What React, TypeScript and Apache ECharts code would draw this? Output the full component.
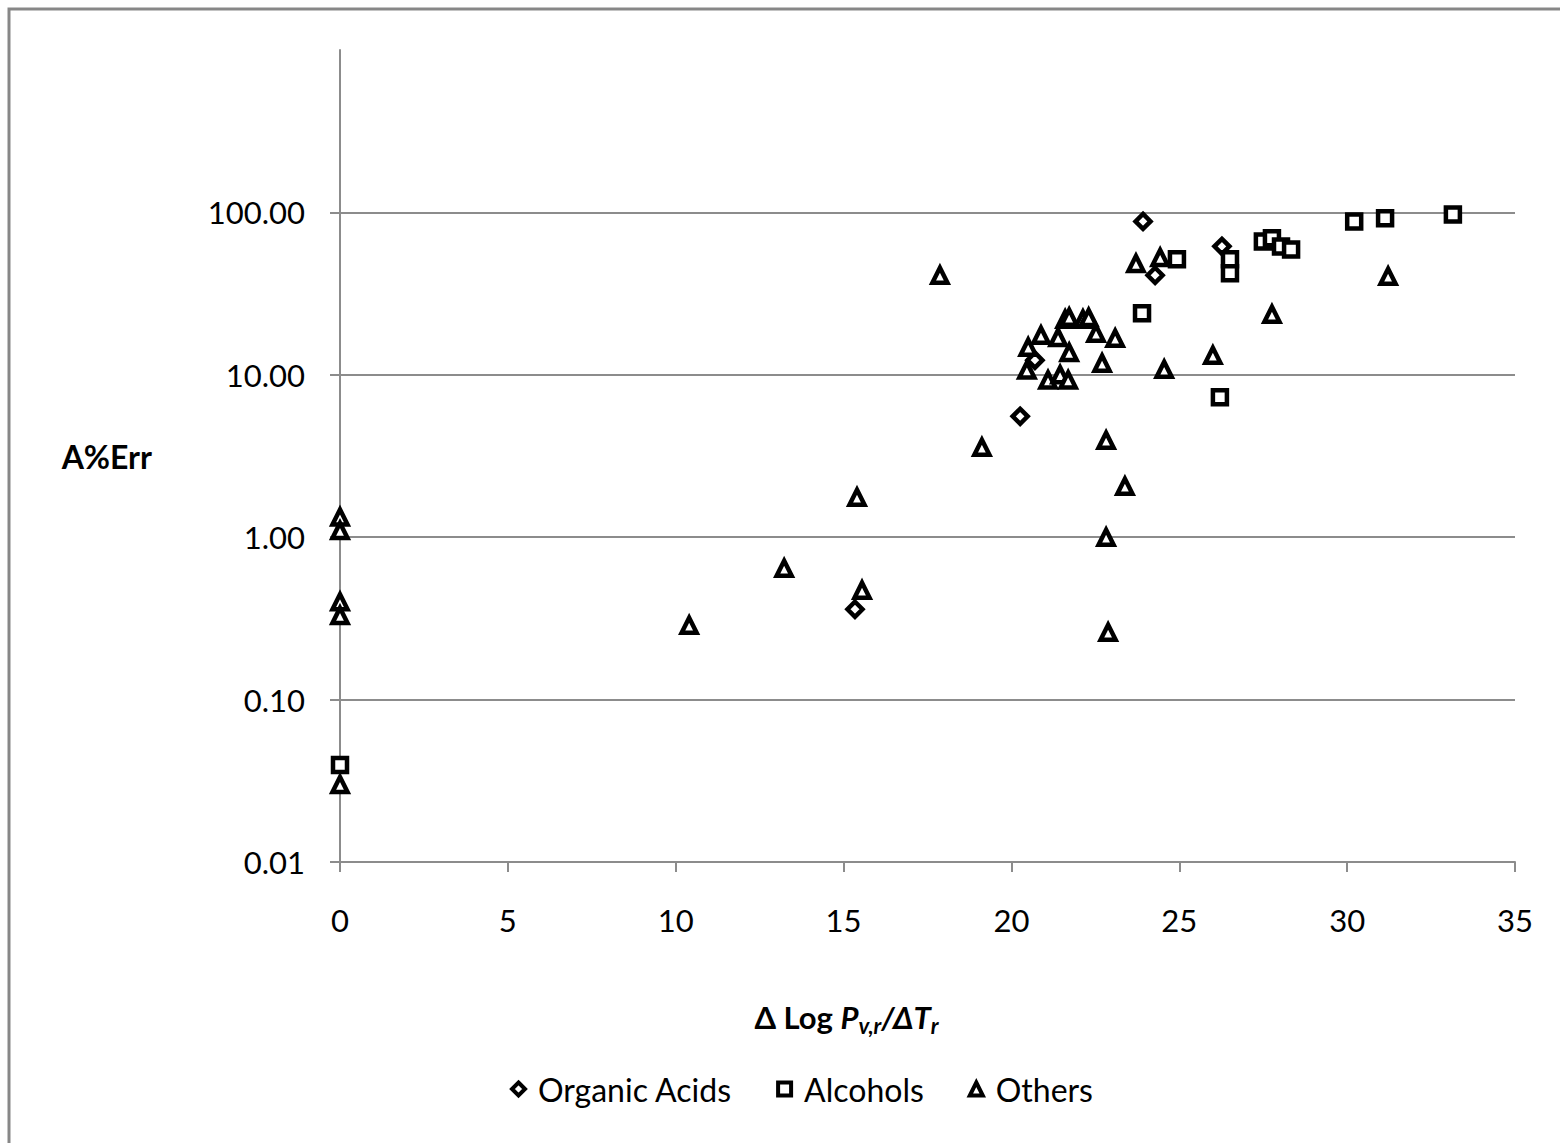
import React, { useEffect, useRef } from "react";
import * as echarts from "echarts";

// ---- data ----
const seriesNames = ["Organic Acids", "Alcohols", "Others"];

const acidsX = [23.92, 26.27, 24.28, 20.7, 20.26, 15.34];
const acidsY = [88, 61.8, 41, 12.3, 5.55, 0.36];

const alcoholsX = [0, 23.89, 24.93, 26.51, 26.51, 26.21, 27.49, 27.76, 28.03, 28.33, 30.21, 31.13, 33.15];
const alcoholsY = [0.0395, 23.9, 51.4, 51.4, 42.2, 7.27, 66.3, 69.2, 61.7, 59.2, 88, 91.9, 97.2];

const othersX = [
  0, 0, 0, 0, 0, 10.4, 13.23, 15.4, 15.55, 17.87, 19.12, 20.46, 20.5, 20.88, 21.09, 21.39, 21.45,
  21.6, 21.72, 21.72, 21.69, 22.13, 22.3, 22.52, 22.7, 22.82, 22.82, 22.88, 23.09, 23.38, 23.71,
  24.43, 24.55, 26.0, 27.76, 31.22,
];
const othersY = [
  1.33, 1.1, 0.4, 0.33, 0.03, 0.287, 0.644, 1.76, 0.472, 41, 3.58, 10.7, 14.8, 17.5, 9.3, 17.0, 10.0,
  22.0, 22.6, 13.7, 9.3, 22.0, 22.5, 18.0, 11.8, 3.95, 1.0, 0.26, 16.8, 2.06, 48.5, 52.8, 10.8,
  13.2, 23.6, 40.4,
];

const xTicks = { min: 0, max: 35, interval: 5 };
const yTicks = { min: 0.01, max: 1000 };
const yTickValues = [0.01, 0.1, 1, 10, 100];

const zip = (xs: number[], ys: number[]) => xs.map((x, i) => [x, ys[i]]);

const FONT = "Lato";

export default function App() {
  const ref = useRef<HTMLDivElement>(null);

  useEffect(() => {
    document.body.style.margin = "0";
    const chart = echarts.init(ref.current!, null, { renderer: "svg" });
    const markerStyle = { color: "#ffffff", borderColor: "#000000", borderWidth: 4.5, opacity: 1 };
    const option: any = {
      animation: false,
      backgroundColor: "#ffffff",
      textStyle: { fontFamily: FONT },
      graphic: [
        {
          type: "rect",
          shape: { x: 9, y: 9, width: 1700, height: 1300 },
          style: { fill: "none", stroke: "#878787", lineWidth: 3 },
          silent: true,
        },
      ],
      grid: { left: 340, right: 45, top: 50, bottom: 281, containLabel: false },
      xAxis: {
        type: "value",
        min: xTicks.min,
        max: xTicks.max,
        interval: xTicks.interval,
        name: "{b|Δ Log }{i|P}{s|v,r}{i|/ΔT}{s|r}",
        nameLocation: "middle",
        nameGap: 138,
        nameTextStyle: {
          padding: [0, 162, 0, 0],
          rich: {
            b: { fontFamily: FONT, fontSize: 31, fontWeight: "bold", color: "#000", lineHeight: 34 },
            i: { fontFamily: FONT, fontSize: 31, fontWeight: "bold", fontStyle: "italic", color: "#000", lineHeight: 34 },
            s: { fontFamily: FONT, fontSize: 22, fontWeight: "bold", fontStyle: "italic", color: "#000", lineHeight: 14, padding: [14, 0, 0, 0], verticalAlign: "top" },
          },
        },
        axisLine: { show: true, lineStyle: { color: "#8c8c8c", width: 2 } },
        axisTick: { show: true, length: 10, inside: false, lineStyle: { color: "#8c8c8c", width: 2 } },
        axisLabel: { fontFamily: FONT, fontSize: 31, color: "#000", margin: 42 },
        splitLine: { show: false },
      },
      yAxis: {
        type: "log",
        logBase: 10,
        min: yTicks.min,
        max: yTicks.max,
        name: "A%Err",
        nameLocation: "middle",
        nameRotate: 0,
        nameGap: 188,
        nameTextStyle: { fontFamily: FONT, fontSize: 32, fontWeight: "bold", color: "#000" },
        axisLine: { show: true, onZero: false, lineStyle: { color: "#8c8c8c", width: 2 } },
        axisTick: { show: true, length: 10, customValues: yTickValues, lineStyle: { color: "#8c8c8c", width: 2 } },
        axisLabel: {
          fontFamily: FONT,
          fontSize: 31,
          color: "#000",
          margin: 35,
          formatter: (v: number) => (v >= 999 ? "" : v.toFixed(2)),
        },
        splitLine: { show: true, showMinLine: false, showMaxLine: true, lineStyle: { color: "#8c8c8c", width: 2 } },
      },
      legend: {
        bottom: 33,
        left: 505,
        itemGap: 44,
        itemWidth: 13,
        itemHeight: 13,
        itemStyle: { color: "#ffffff", borderColor: "#000000", borderWidth: 4 },
        textStyle: { fontFamily: FONT, fontSize: 32, color: "#000", padding: [0, 0, 0, 8] },
        data: [
          { name: seriesNames[0], icon: "diamond" },
          { name: seriesNames[1], icon: "rect" },
          { name: seriesNames[2], icon: "triangle" },
        ],
      },
      series: [
        {
          name: seriesNames[0],
          type: "scatter",
          symbol: "diamond",
          symbolSize: 15,
          itemStyle: markerStyle,
          data: zip(acidsX, acidsY),
        },
        {
          name: seriesNames[1],
          type: "scatter",
          symbol: "rect",
          symbolSize: 14,
          itemStyle: markerStyle,
          data: zip(alcoholsX, alcoholsY),
        },
        {
          name: seriesNames[2],
          type: "scatter",
          symbol: "triangle",
          symbolSize: 15,
          itemStyle: markerStyle,
          data: zip(othersX, othersY),
        },
      ],
    };
    chart.setOption(option);
    return () => chart.dispose();
  }, []);

  return <div ref={ref} style={{ width: 1560, height: 1143 }} />;
}
